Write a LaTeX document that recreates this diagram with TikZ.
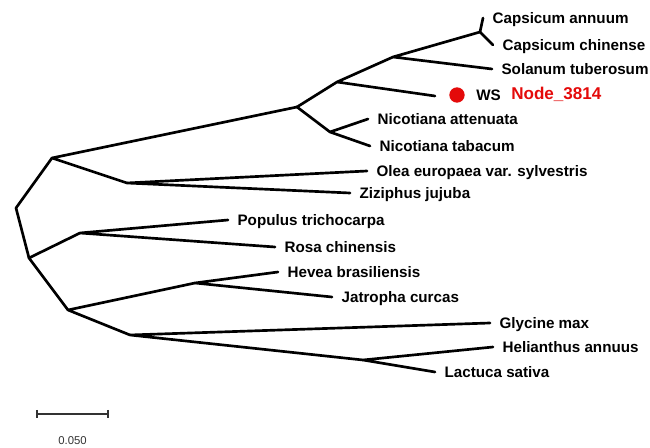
\documentclass[tikz,border=0pt]{standalone}
\usepackage{fontspec}
\setmainfont{Liberation Sans}
\usetikzlibrary{positioning}

\definecolor{wsred}{RGB}{228,10,10}

\tikzset{
  branch/.style={line width=2pt, line join=round, line cap=round},
  taxon/.style={inner sep=0pt, font=\fontsize{11.4}{13}\selectfont\bfseries,
    text height=8pt, text depth=0pt},
  scalebar/.style={line width=0.8pt, draw=black!80},
}

\begin{document}
\begin{tikzpicture}[x=0.75pt, y=-0.75pt]
  \useasboundingbox (0,0) rectangle (650,448);

  % inner nodes of the tree
  \coordinate (root) at (16,208);
  \coordinate (up) at (52,158);
  \coordinate (low) at (29,258);
  \coordinate (sol) at (297,107);
  \coordinate (sws) at (337,82);
  \coordinate (stu) at (393,57);
  \coordinate (caps) at (480,32);
  \coordinate (nico) at (330,132);
  \coordinate (olzi) at (127,183);
  \coordinate (poro) at (80,233);
  \coordinate (rest) at (68,310);
  \coordinate (heja) at (195,283);
  \coordinate (ast) at (130,335);
  \coordinate (hela) at (363,360);

  % tips
  \coordinate (ca) at (483,18);
  \coordinate (cc) at (493,45);
  \coordinate (st) at (492,69);
  \coordinate (wst) at (435,96);
  \coordinate (na) at (368,119);
  \coordinate (nt) at (370,146);
  \coordinate (oe) at (367,171);
  \coordinate (zj) at (350,193);
  \coordinate (pt) at (228,220);
  \coordinate (rc) at (275,247);
  \coordinate (hb) at (278,272);
  \coordinate (jc) at (332,297);
  \coordinate (gm) at (490,323);
  \coordinate (ha) at (493,347);
  \coordinate (ls) at (435,372);

  % labels
  \node[taxon, right=7pt of ca] (caL) {Capsicum annuum};
  \node[taxon, right=7pt of cc] (ccL) {Capsicum chinense};
  \node[taxon, right=7pt of st] (stL) {Solanum tuberosum};
  \node[taxon, right=7pt of na] (naL) {Nicotiana attenuata};
  \node[taxon, right=7pt of nt] (ntL) {Nicotiana tabacum};
  \node[taxon, right=7pt of oe] (oeL) {Olea europaea var. sylvestris};
  \node[taxon, right=7pt of zj] (zjL) {Ziziphus jujuba};
  \node[taxon, right=7pt of pt] (ptL) {Populus trichocarpa};
  \node[taxon, right=7pt of rc] (rcL) {Rosa chinensis};
  \node[taxon, right=7pt of hb] (hbL) {Hevea brasiliensis};
  \node[taxon, right=7pt of jc] (jcL) {Jatropha curcas};
  \node[taxon, right=7pt of gm] (gmL) {Glycine max};
  \node[taxon, right=7pt of ha] (haL) {Helianthus annuus};
  \node[taxon, right=7pt of ls] (lsL) {Lactuca sativa};

  % the WS sequence
  \node[circle, fill=wsred, minimum size=11.5pt, inner sep=0pt] (dot) at (457,95) {};
  \node[taxon, anchor=west] (ws) at (476,95) {WS};
  \node[taxon, anchor=west, text=wsred, font=\fontsize{12.8}{14}\selectfont\bfseries] (id) at (511,94) {Node\_3814};

  % branches
  \draw[branch] (up) -- (root) -- (low);
  \draw[branch] (sol) -- (up) -- (olzi);
  \draw[branch] (sws) -- (sol) -- (nico);
  \draw[branch] (stu) -- (sws) -- (wst);
  \draw[branch] (caps) -- (stu) -- (st);
  \draw[branch] (ca) -- (caps) -- (cc);
  \draw[branch] (na) -- (nico) -- (nt);
  \draw[branch] (oe) -- (olzi) -- (zj);
  \draw[branch] (poro) -- (low) -- (rest);
  \draw[branch] (pt) -- (poro) -- (rc);
  \draw[branch] (heja) -- (rest) -- (ast);
  \draw[branch] (hb) -- (heja) -- (jc);
  \draw[branch] (gm) -- (ast) -- (hela);
  \draw[branch] (ha) -- (hela) -- (ls);

  % scale bar
  \coordinate (sa) at (37,414);
  \coordinate (sb) at (108,414);
  \draw[scalebar] (sa) -- (sb);
  \draw[scalebar] ([yshift=3pt]sa) -- ([yshift=-3pt]sa);
  \draw[scalebar] ([yshift=3pt]sb) -- ([yshift=-3pt]sb);
  \node[font=\fontsize{8.5}{10}\selectfont, text=black!80] (scale) at (72.5,441) {0.050};
\end{tikzpicture}
\end{document}
